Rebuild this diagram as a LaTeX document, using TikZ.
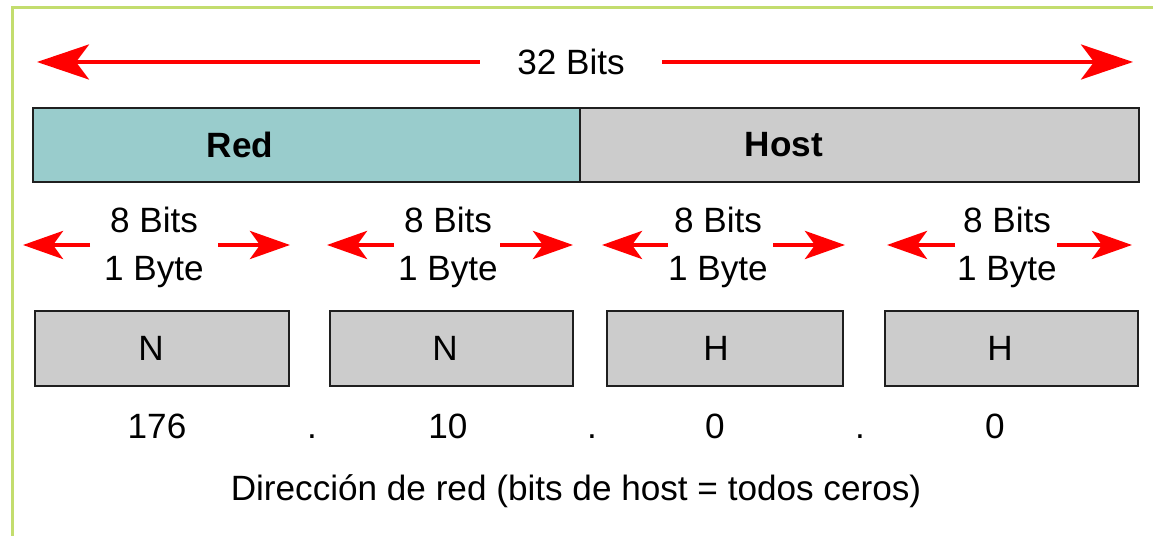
\documentclass[tikz,border=0pt]{standalone}
\usepackage{fontspec}
\setmainfont{Liberation Sans}
\usetikzlibrary{arrows.meta}
\definecolor{frame}{RGB}{195,221,110}
\definecolor{netfill}{RGB}{153,204,204}
\definecolor{hostfill}{RGB}{204,204,204}

\begin{document}
\begin{tikzpicture}[x=0.02cm, y=-0.02cm,
  txt/.style={font=\fontsize{20}{27.3}\selectfont, inner sep=0pt},
  field/.style={draw=black!88, line width=0.05cm, inner sep=0pt, minimum height=1.48cm},
  octet/.style={draw=black!88, line width=0.05cm, fill=hostfill, inner sep=0pt, minimum height=1.5cm},
  bigarrow/.style={red, line width=0.08cm, -{Stealth[length=1.04cm, width=0.7cm, inset=0.26cm]}},
  smallarrow/.style={red, line width=0.09cm, -{Stealth[length=0.8cm, width=0.56cm, inset=0.2cm]}}]

\useasboundingbox (0,0) rectangle (1153,536);
\draw[frame, line width=0.06cm] (12.5,536) -- (12.5,8) -- (1153,8);

% 32 bits
\node[txt, inner xsep=0.74cm] (total) at (571,62) {32 Bits};
\coordinate (totalL) at (37,62);
\coordinate (totalR) at (1133,62);
\draw[bigarrow] (total.west) -- (totalL);
\draw[bigarrow] (total.east) -- (totalR);

% red / host
\node[field, fill=netfill, minimum width=10.94cm] (net) at (306.5,145) {};
\node[field, fill=hostfill, minimum width=11.18cm] (host) at (859.5,145) {};
\node[txt, font=\fontsize{20}{24}\selectfont\bfseries] (netlbl) at (240,145) {Red};
\node[txt, font=\fontsize{20}{24}\selectfont\bfseries] (hostlbl) at (784,145) {Host};

% bytes
\foreach \i/\cx/\tipl/\taill/\tailr/\tipr in {1/154/23/90/218/290, 2/448/327/394/500/573, 3/718/602/668/773/845, 4/1007/887/955/1057/1132}
{
  \node[txt, align=center] (byte\i) at (\cx,247.5) {8 Bits\\1 Byte};
  \coordinate (tipl\i) at (\tipl,245);
  \coordinate (taill\i) at (\taill,245);
  \coordinate (tailr\i) at (\tailr,245);
  \coordinate (tipr\i) at (\tipr,245);
  \draw[smallarrow] (taill\i) -- (tipl\i);
  \draw[smallarrow] (tailr\i) -- (tipr\i);
}

\foreach \i/\bx/\bw/\lx/\sym in {1/162/5.08/151/N, 2/451.5/4.86/445/N, 3/725/4.72/716/H, 4/1011.5/5.06/1000/H}
{
  \node[octet, minimum width=\bw cm] (oct\i) at (\bx,348.5) {};
  \node[txt] (sym\i) at (\lx,348.5) {\sym};
}

% address
\foreach \i/\nx/\val in {1/157/176, 2/448/10, 3/715/0, 4/995/0}
  \node[txt, anchor=base] (num\i) at (\nx,439) {\val};
\foreach \i/\dx in {1/312, 2/592, 3/860}
  \node[txt, anchor=base] (dot\i) at (\dx,439) {.};

\node[txt, anchor=base] (caption) at (576,501) {Dirección de red (bits de host = todos ceros)};
\end{tikzpicture}
\end{document}
